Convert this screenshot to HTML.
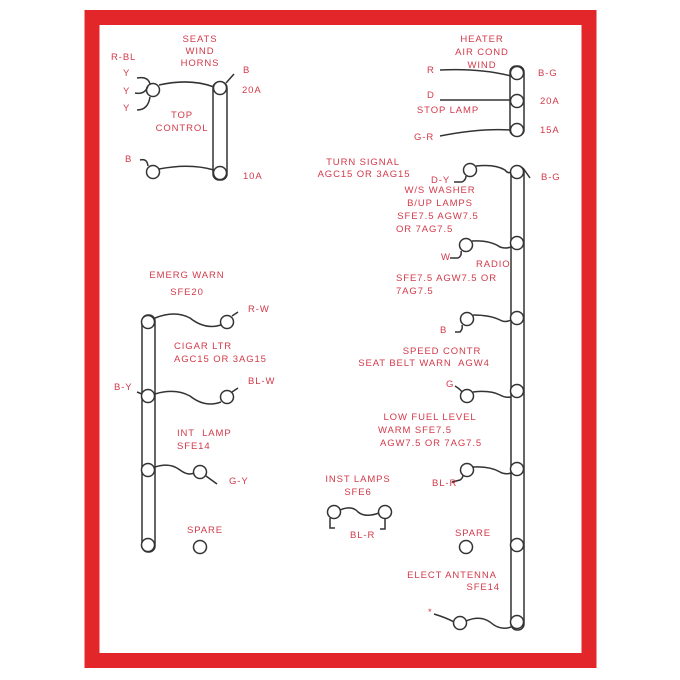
<!DOCTYPE html>
<html><head><meta charset="utf-8"><style>
html,body{margin:0;padding:0;background:#fff;}
svg{display:block;}
text{font-family:"Liberation Sans",sans-serif;font-size:9.5px;letter-spacing:0.9px;fill:#d23a4a;}
</style></head><body>
<svg width="680" height="680" viewBox="0 0 680 680">
<rect width="680" height="680" fill="#fff"/>
<rect x="92" y="17.5" width="497" height="643" fill="none" stroke="#e3262a" stroke-width="15"/>
<g fill="none" stroke="#333" stroke-width="1.5">
<rect x="213" y="82" width="14" height="98" rx="6"/>
<circle cx="220" cy="88" r="6.5" fill="#fff"/><circle cx="220" cy="173" r="6.5" fill="#fff"/>
<circle cx="153" cy="90" r="6.5"/><circle cx="153" cy="172" r="6.5"/>
<path d="M159 85 Q190 78 214 87"/><path d="M159 169 Q190 163 214 170"/>
<path d="M137 78 Q148 76 150 84"/><path d="M135 93 Q145 95 148 86"/><path d="M137 110 Q148 110 150 97"/>
<path d="M140 160 Q147 158 148 166"/><path d="M226 83 L234 74"/>
<rect x="510" y="66" width="14" height="70" rx="6"/>
<circle cx="517" cy="73" r="6.5" fill="#fff"/><circle cx="517" cy="101" r="6.5" fill="#fff"/><circle cx="517" cy="130" r="6.5" fill="#fff"/>
<path d="M440 70 Q480 68 511 76"/><path d="M440 100 L511 100"/><path d="M440 136 Q480 128 511 130"/>
<rect x="511" y="166" width="13" height="464" rx="6"/>
<circle cx="517" cy="172" r="6.5" fill="#fff"/><circle cx="517" cy="243" r="6.5" fill="#fff"/><circle cx="517" cy="318" r="6.5" fill="#fff"/><circle cx="517" cy="391" r="6.5" fill="#fff"/><circle cx="517" cy="469" r="6.5" fill="#fff"/><circle cx="517" cy="545" r="6.5" fill="#fff"/><circle cx="517" cy="622" r="6.5" fill="#fff"/>
<circle cx="470" cy="170" r="6.5"/><path d="M476 166 Q495 164 505 170 Q508 174 511 172"/><path d="M454 182 L462 182 Q466 180 466 176"/><path d="M523 168 L530 178"/>
<circle cx="466" cy="245" r="6.5"/><path d="M472 241 Q490 240 500 247 Q505 249 511 247"/><path d="M450 258 L458 258 Q462 256 461 251"/>
<circle cx="467" cy="319" r="6.5"/><path d="M473 315 Q490 315 500 320 Q505 323 511 320"/><path d="M455 332 L460 332 Q463 329 462 325"/>
<circle cx="467" cy="396" r="6.5"/><path d="M455 386 Q460 389 462 392"/><path d="M473 392 Q490 390 500 395 Q505 398 511 397"/>
<circle cx="467" cy="470" r="6.5"/><path d="M473 467 Q490 466 500 472 Q505 475 511 473"/><path d="M452 482 L460 480 Q463 478 463 475"/>
<circle cx="466" cy="547" r="6.5"/>
<circle cx="460" cy="623" r="6.5"/><path d="M434 614 Q447 618 454 622"/><path d="M466 621 Q480 615 490 622 Q500 631 511 627"/>
<rect x="142" y="315" width="13" height="237" rx="6"/>
<circle cx="148" cy="322" r="6.5" fill="#fff"/><circle cx="148" cy="396" r="6.5" fill="#fff"/><circle cx="148" cy="470" r="6.5" fill="#fff"/><circle cx="148" cy="545" r="6.5" fill="#fff"/>
<circle cx="227" cy="322" r="6.5"/><path d="M155 318 Q175 310 190 318 Q205 330 221 325"/><path d="M232 316 L238 312"/>
<circle cx="227" cy="397" r="6.5"/><path d="M155 394 Q175 388 190 396 Q205 408 221 402"/><path d="M232 392 L238 388"/><path d="M137 392 L142 394"/>
<circle cx="200" cy="472" r="6.5"/><path d="M155 467 Q170 462 180 470 Q188 476 194 473"/><path d="M206 476 L217 484"/>
<circle cx="200" cy="547" r="6.5"/>
<circle cx="334" cy="512" r="6.5"/><circle cx="385" cy="512" r="6.5"/>
<path d="M340 510 Q352 505 358 512 Q365 518 379 513"/><path d="M330 518 L330 528 L335 528"/><path d="M385 518 L385 529 L380 529"/>
</g>
<g>
<text x="200" y="42" text-anchor="middle">SEATS</text>
<text x="200" y="54" text-anchor="middle">WIND</text>
<text x="200" y="66" text-anchor="middle">HORNS</text>
<text x="111" y="60">R-BL</text>
<text x="123" y="76">Y</text><text x="123" y="94">Y</text><text x="123" y="111">Y</text>
<text x="182" y="118" text-anchor="middle">TOP</text>
<text x="182" y="131" text-anchor="middle">CONTROL</text>
<text x="125" y="162">B</text>
<text x="243" y="73">B</text><text x="242" y="93">20A</text><text x="243" y="179">10A</text>
<text x="482" y="42" text-anchor="middle">HEATER</text>
<text x="482" y="55" text-anchor="middle">AIR COND</text>
<text x="482" y="68" text-anchor="middle">WIND</text>
<text x="427" y="73">R</text><text x="427" y="98">D</text>
<text x="448" y="113" text-anchor="middle">STOP LAMP</text>
<text x="414" y="140">G-R</text>
<text x="538" y="76">B-G</text><text x="540" y="104">20A</text><text x="540" y="133">15A</text>
<text x="363" y="165" text-anchor="middle">TURN SIGNAL</text>
<text x="364" y="177" text-anchor="middle">AGC15 OR 3AG15</text>
<text x="431" y="183">D-Y</text><text x="541" y="180">B-G</text>
<text x="440" y="193" text-anchor="middle">W/S WASHER</text>
<text x="440" y="206" text-anchor="middle">B/UP LAMPS</text>
<text x="438" y="219" text-anchor="middle">SFE7.5 AGW7.5</text>
<text x="396" y="232">OR 7AG7.5</text>
<text x="441" y="260">W</text>
<text x="476" y="267">RADIO</text>
<text x="396" y="281">SFE7.5 AGW7.5 OR</text>
<text x="396" y="294">7AG7.5</text>
<text x="440" y="333">B</text>
<text x="442" y="354" text-anchor="middle">SPEED CONTR</text>
<text x="424" y="366" text-anchor="middle">SEAT BELT WARN&#160; AGW4</text>
<text x="446" y="387">G</text>
<text x="430" y="420" text-anchor="middle">LOW FUEL LEVEL</text>
<text x="378" y="433">WARM SFE7.5</text>
<text x="380" y="446">AGW7.5 OR 7AG7.5</text>
<text x="432" y="486">BL-R</text>
<text x="473" y="536" text-anchor="middle">SPARE</text>
<text x="452" y="578" text-anchor="middle">ELECT ANTENNA</text>
<text x="500" y="590" text-anchor="end">SFE14</text>
<text x="428" y="615">*</text>
<text x="187" y="278" text-anchor="middle">EMERG WARN</text>
<text x="187" y="295" text-anchor="middle">SFE20</text>
<text x="248" y="312">R-W</text>
<text x="174" y="349">CIGAR LTR</text>
<text x="174" y="362">AGC15 OR 3AG15</text>
<text x="114" y="390">B-Y</text>
<text x="248" y="384">BL-W</text>
<text x="177" y="436">INT&#160; LAMP</text>
<text x="177" y="449">SFE14</text>
<text x="229" y="484">G-Y</text>
<text x="205" y="533" text-anchor="middle">SPARE</text>
<text x="358" y="482" text-anchor="middle">INST LAMPS</text>
<text x="358" y="495" text-anchor="middle">SFE6</text>
<text x="350" y="538">BL-R</text>
</g>
</svg>
</body></html>
